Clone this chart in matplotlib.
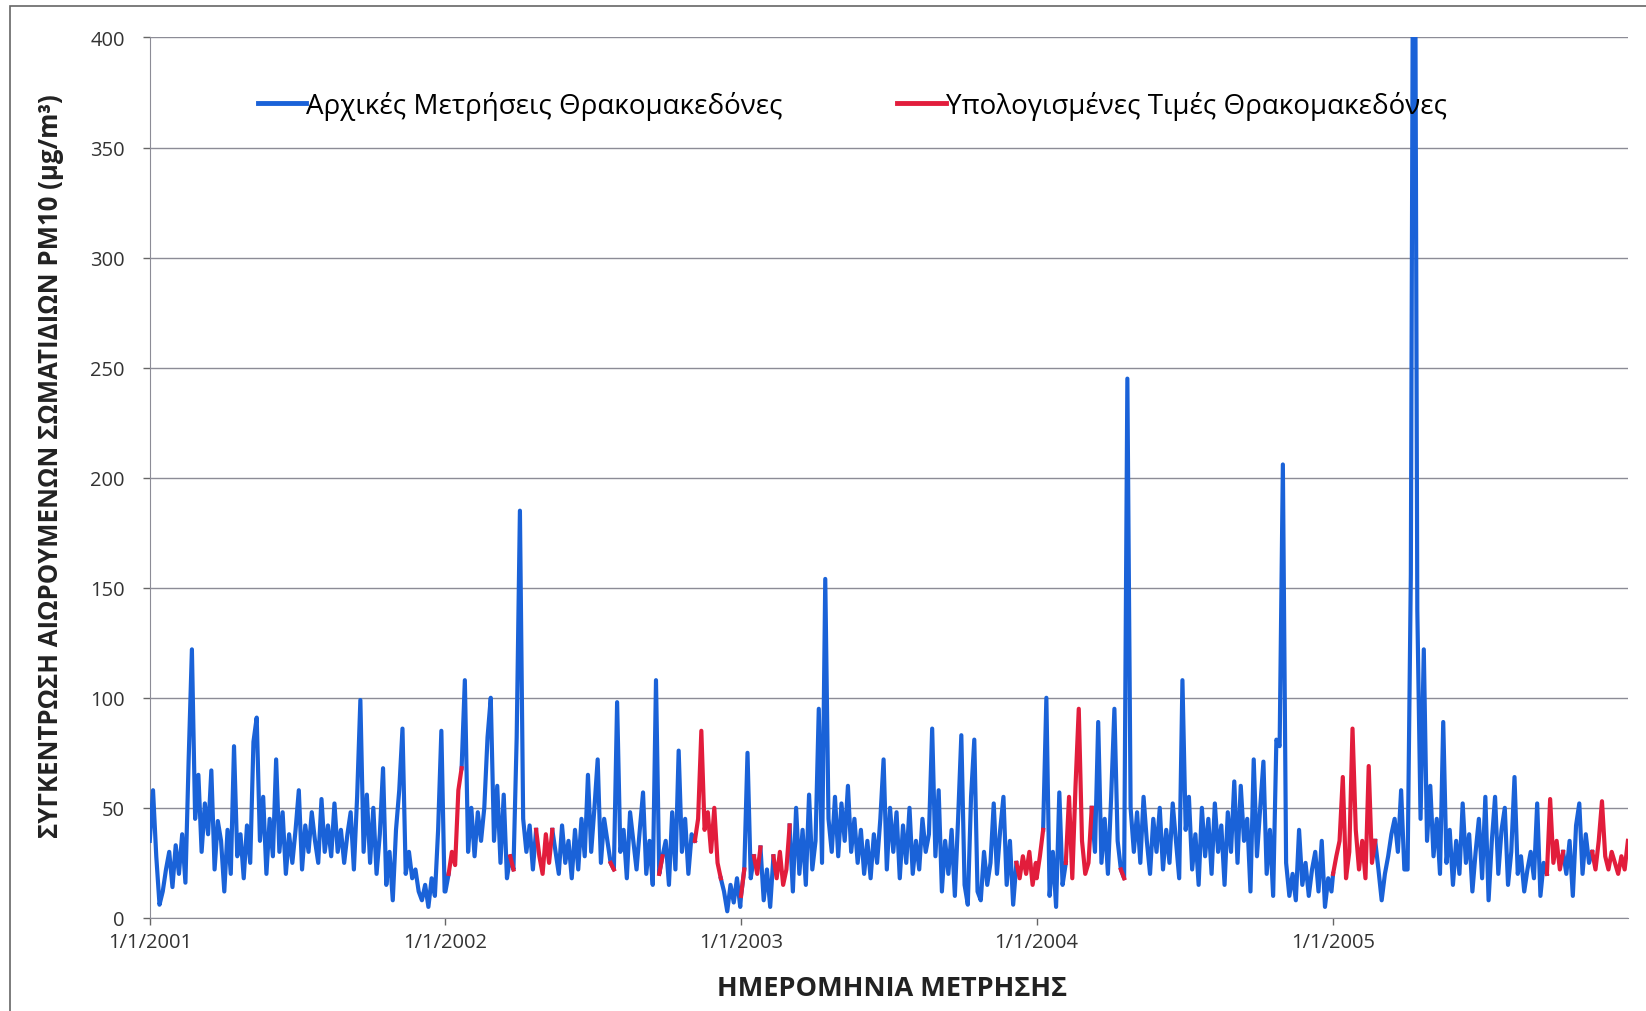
import numpy as np
import pandas as pd
import matplotlib.pyplot as plt
import matplotlib.dates as mdates
from matplotlib.patches import Rectangle

# Daily PM10 at Thrakomakedones, sampled every 4 days (92 samples per year)
pm10_2001 = [35, 58, 28, 6, 12, 22, 30, 14, 33, 20,
             38, 16, 72, 122, 45, 65, 30, 52, 38, 67,
             22, 44, 35, 12, 40, 20, 78, 28, 38, 18,
             42, 25, 80, 91, 35, 55, 20, 45, 28, 72,
             30, 48, 20, 38, 25, 40, 58, 22, 42, 30,
             48, 35, 25, 54, 30, 42, 28, 52, 30, 40,
             25, 38, 48, 22, 55, 99, 30, 56, 25, 50,
             20, 38, 68, 15, 30, 8, 40, 58, 86, 20,
             30, 18, 22, 12, 8, 15, 5, 18, 10, 40,
             85, 12]
pm10_2002 = [12, 20, 30, 24, 58, 68, 108, 30, 50, 28,
             48, 35, 50, 82, 100, 35, 60, 25, 56, 18,
             28, 22, 82, 185, 45, 30, 42, 22, 40, 28,
             20, 38, 25, 40, 30, 20, 42, 25, 35, 18,
             40, 22, 45, 28, 65, 30, 50, 72, 25, 45,
             35, 25, 22, 98, 30, 40, 18, 48, 35, 22,
             40, 57, 20, 35, 15, 108, 20, 28, 35, 15,
             48, 22, 76, 30, 45, 20, 38, 35, 45, 85,
             40, 48, 30, 50, 25, 18, 12, 3, 15, 7,
             18, 5]
pm10_2003 = [10, 22, 75, 18, 28, 20, 32, 8, 22, 5,
             28, 18, 30, 15, 22, 42, 12, 50, 20, 40,
             15, 56, 22, 35, 95, 25, 154, 45, 30, 55,
             28, 52, 35, 60, 30, 45, 25, 40, 20, 35,
             18, 38, 25, 45, 72, 22, 50, 30, 48, 18,
             42, 25, 50, 20, 35, 22, 45, 30, 38, 86,
             28, 58, 12, 35, 20, 40, 10, 45, 83, 15,
             6, 55, 81, 12, 8, 30, 15, 25, 52, 20,
             40, 55, 15, 35, 6, 25, 18, 28, 20, 30,
             15, 25]
pm10_2004 = [18, 28, 40, 100, 10, 30, 5, 57, 15, 25,
             55, 18, 60, 95, 35, 20, 25, 50, 30, 89,
             25, 45, 20, 55, 95, 35, 22, 18, 245, 50,
             30, 48, 25, 55, 35, 20, 45, 30, 50, 22,
             40, 25, 52, 35, 18, 108, 40, 55, 22, 38,
             15, 50, 28, 45, 20, 52, 30, 42, 15, 48,
             30, 62, 25, 60, 35, 45, 12, 72, 28, 50,
             71, 20, 40, 10, 81, 78, 206, 25, 10, 20,
             8, 40, 15, 25, 10, 22, 30, 12, 35, 5,
             18, 12]
pm10_2005 = [20, 28, 35, 64, 18, 30, 86, 40, 22, 35,
             18, 69, 25, 35, 22, 8, 20, 28, 38, 45,
             30, 58, 22, 22, 156, 600, 140, 45, 122, 35,
             60, 28, 45, 20, 89, 25, 40, 15, 35, 20,
             52, 25, 38, 12, 30, 45, 18, 55, 8, 35,
             55, 20, 40, 50, 15, 30, 64, 20, 28, 12,
             22, 30, 18, 52, 10, 25, 20, 54, 25, 35,
             22, 30, 20, 35, 10, 42, 52, 20, 38, 25,
             30, 22, 35, 53, 28, 22, 30, 25, 20, 28,
             22, 35]

years = [2001, 2002, 2003, 2004, 2005]
yearly = [pm10_2001, pm10_2002, pm10_2003, pm10_2004, pm10_2005]

# gaps in the measurements that were filled with computed values
estimated_periods = [
    ("2002-01-05", "2002-01-21"), ("2002-03-22", "2002-03-26"),
    ("2002-04-23", "2002-05-13"), ("2002-07-24", "2002-07-28"),
    ("2002-09-22", "2002-09-26"), ("2002-11-05", "2002-12-07"),
    ("2003-01-01", "2003-01-05"), ("2003-01-17", "2003-01-25"),
    ("2003-02-10", "2003-03-02"), ("2003-12-07", "2003-12-31"),
    ("2004-01-01", "2004-01-09"), ("2004-02-06", "2004-03-09"),
    ("2004-04-14", "2004-04-18"),
    ("2005-01-01", "2005-02-22"), ("2005-09-22", "2005-10-12"),
    ("2005-11-17", "2005-12-31"),
]

label_measured = "Αρχικές Μετρήσεις Θρακομακεδόνες"
label_estimated = "Υπολογισμένες Τιμές Θρακομακεδόνες"

dates = []
values = []
for y, vals in zip(years, yearly):
    d = pd.date_range(f"{y}-01-01", f"{y}-12-31", freq="4D")
    dates.extend(d[:len(vals)])
    values.extend(vals)
dates = pd.DatetimeIndex(dates)
values = np.array(values, dtype=float)

is_est = np.zeros(len(values), dtype=bool)
for start, end in estimated_periods:
    is_est |= (dates >= start) & (dates <= end)
# measured line keeps one neighbour on each side so it meets the red runs
blue_mask = ~is_est
blue_mask[1:] |= ~is_est[:-1]
blue_mask[:-1] |= ~is_est[1:]
blue_vals = np.where(blue_mask, values, np.nan)
red_vals = np.where(is_est, values, np.nan)

plt.rcParams['font.family'] = ['Open Sans', 'DejaVu Sans']

fig = plt.figure(figsize=(16.46, 10.12), dpi=100)
ax = fig.add_axes([0.091, 0.092, 0.898, 0.870])

blue = "#1a62d8"
red = "#e21d3c"
ax.plot(dates, blue_vals, color=blue, lw=3.0, zorder=3)
ax.plot(dates, red_vals, color=red, lw=3.0, zorder=4)

ax.set_xlim(pd.Timestamp("2001-01-01"), pd.Timestamp("2005-12-31"))
ax.set_ylim(0, 400)
ax.set_yticks(np.arange(0, 401, 50))
ax.set_xticks([pd.Timestamp(f"{y}-01-01") for y in years])
ax.xaxis.set_major_formatter(mdates.DateFormatter("1/1/%Y"))
ax.tick_params(axis="both", labelsize=14.5, colors="#666666", labelcolor="#333333",
               length=5, width=1)
ax.tick_params(axis="x", pad=5)
ax.tick_params(axis="y", pad=13)
ax.grid(axis="y", color="#8c8c96", lw=1)
ax.set_axisbelow(True)
for side in ["top", "right"]:
    ax.spines[side].set_visible(False)
for side in ["left", "bottom"]:
    ax.spines[side].set_color("#8c8c96")

ax.set_ylabel("ΣΥΓΚΕΝΤΡΩΣΗ ΑΙΩΡΟΥΜΕΝΩΝ ΣΩΜΑΤΙΔΙΩΝ PM10 (μg/m³)",
              fontsize=18.5, fontweight="bold", color="#222222")
ax.yaxis.set_label_coords(-0.058, 0.514)
ax.set_xlabel("ΗΜΕΡΟΜΗΝΙΑ ΜΕΤΡΗΣΗΣ", fontsize=19.5, fontweight="bold", color="#222222")
ax.xaxis.set_label_coords(0.502, -0.065)

h1, = ax.plot([], [], color=blue, lw=3.5)
h2, = ax.plot([], [], color=red, lw=3.5)
ax.legend([h1, h2], [label_measured, label_estimated], ncol=2, frameon=False,
          loc="center left", bbox_to_anchor=(0.056, 0.923), fontsize=20,
          handlelength=1.76, handletextpad=0.0, columnspacing=4.1)

# thin outline around the chart area
fig.patches.append(Rectangle((0.006, -0.02), 1.2, 1.013, transform=fig.transFigure,
                             fill=False, edgecolor="#666666", lw=1.2))

fig.savefig("out.png", dpi=100)
